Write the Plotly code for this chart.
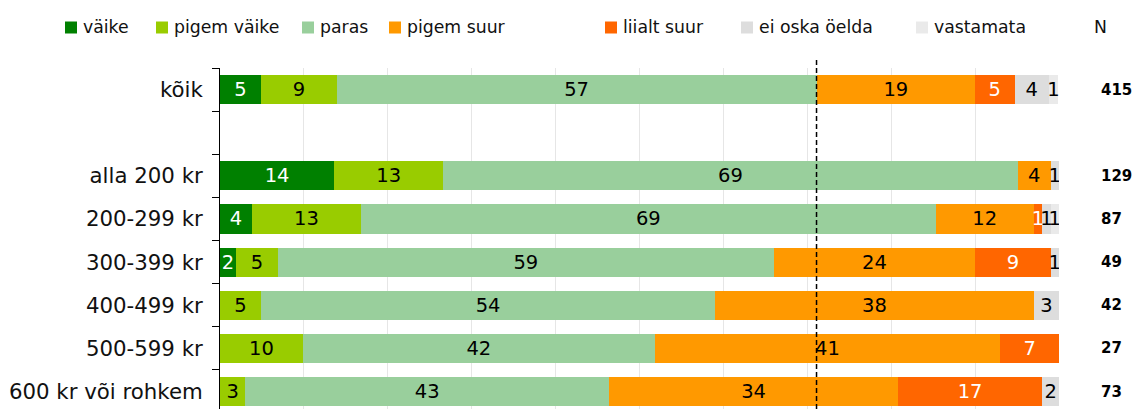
import plotly.graph_objects as go

# ---------------- data ----------------
categories = ["kõik", " ", "alla 200 kr", "200-299 kr", "300-399 kr",
              "400-499 kr", "500-599 kr", "600 kr või rohkem"]
series_names = ["väike", "pigem väike", "paras", "pigem suur",
                "liialt suur", "ei oska öelda", "vastamata"]

vaike       = [4.9, None, 13.6, 3.8, 1.9, 0, 0, 0]
pigem_vaike = [9.0, None, 13.0, 13.0, 5.0, 4.9, 9.9, 3.0]
paras       = [57.2, None, 68.5, 68.5, 59.1, 54.1, 41.9, 43.4]
pigem_suur  = [18.9, None, 3.9, 11.7, 24.0, 38.0, 41.2, 34.4]
liialt_suur = [4.7, None, 0, 1.0, 9.0, 0, 7.0, 17.2]
ei_oska     = [4.1, None, 1.0, 1.0, 1.0, 3.0, 0, 2.0]
vastamata   = [1.1, None, 0, 1.0, 0, 0, 0, 0]

vaike_lbl       = ["5", "", "14", "4", "2", "", "", ""]
pigem_vaike_lbl = ["9", "", "13", "13", "5", "5", "10", "3"]
paras_lbl       = ["57", "", "69", "69", "59", "54", "42", "43"]
pigem_suur_lbl  = ["19", "", "4", "12", "24", "38", "41", "34"]
liialt_suur_lbl = ["5", "", "", "1", "9", "", "7", "17"]
ei_oska_lbl     = ["4", "", "1", "1", "1", "3", "", "2"]
vastamata_lbl   = ["1", "", "", "1", "", "", "", ""]

n_values = [415, None, 129, 87, 49, 42, 27, 73]

# ---------------- styles ----------------
colors = ["#008000", "#99CC00", "#99CF9C", "#FF9900", "#FF6600", "#DDDDDD", "#EAEAEA"]
text_colors = ["white", "black", "black", "black", "white", "black", "black"]
FONT = "DejaVu Sans, Verdana, sans-serif"
FS_LEG = 17.3
FS_BAR = 19.5
FS_TICK = 21.3

W, H = 1133, 409
ML, MR, MT, MB = 220, 74, 68, 0
PW, PH = W - ML - MR, H - MT - MB


def px_x(px):  # page pixel -> paper x
    return (px - ML) / PW


def px_y(py):  # page pixel -> paper y
    return (H - MB - py) / PH


values = [vaike, pigem_vaike, paras, pigem_suur, liialt_suur, ei_oska, vastamata]
labels = [vaike_lbl, pigem_vaike_lbl, paras_lbl, pigem_suur_lbl,
          liialt_suur_lbl, ei_oska_lbl, vastamata_lbl]

fig = go.Figure()
for name, vals, lbl, col, tcol in zip(series_names, values, labels, colors, text_colors):
    fig.add_trace(go.Bar(
        y=categories, x=vals, name=name, orientation="h",
        marker=dict(color=col, line=dict(width=0)),
        text=lbl, textposition="inside", insidetextanchor="middle",
        textangle=0, insidetextfont=dict(family=FONT, size=FS_BAR, color=tcol),
        showlegend=False, hoverinfo="skip",
    ))

# reference line at the overall share of the first three answers
ref = vaike[0] + pigem_vaike[0] + paras[0]
fig.add_shape(type="line", xref="x", yref="paper", x0=ref, x1=ref,
              y0=0, y1=px_y(57), line=dict(color="black", width=1.5, dash="5px,3px"))

# manual legend
legend_sq_x = [65, 156, 302, 389, 605, 741, 916]
for name, col, sx in zip(series_names, colors, legend_sq_x):
    fig.add_shape(type="rect", xref="paper", yref="paper",
                  x0=px_x(sx), x1=px_x(sx + 12), y0=px_y(33.5), y1=px_y(21.5),
                  fillcolor=col, line=dict(width=0))
    fig.add_annotation(x=px_x(sx + 16), y=px_y(27), xref="paper", yref="paper",
                       text=name, showarrow=False, xanchor="left", yanchor="middle",
                       font=dict(family=FONT, size=FS_LEG, color="#111"))
fig.add_annotation(x=px_x(1092), y=px_y(27), xref="paper", yref="paper",
                   text="N", showarrow=False, xanchor="left", yanchor="middle",
                   font=dict(family=FONT, size=FS_LEG, color="#111"))

# N per row
for cat, n in zip(categories, n_values):
    if n is None:
        continue
    fig.add_annotation(x=px_x(1099), y=cat, xref="paper", yref="y",
                       text=f"<b>{n}</b>", showarrow=False, xanchor="left",
                       yanchor="middle",
                       font=dict(family=FONT, size=15, color="black"))

fig.update_layout(
    width=W, height=H, barmode="stack", bargap=0.326,
    margin=dict(l=ML, r=MR, t=MT, b=MB, pad=0, autoexpand=False),
    plot_bgcolor="white", paper_bgcolor="white",
    font=dict(family=FONT, size=FS_LEG, color="#111"),
    uniformtext=dict(minsize=FS_BAR, mode="show"),
    xaxis=dict(range=[0, 100], dtick=10, showgrid=True, gridcolor="#E6E6E6",
               gridwidth=1, showticklabels=False, zeroline=False, showline=False,
               ticks="", automargin=False),
    yaxis=dict(type="category", categoryorder="array", categoryarray=categories,
               range=[7.405, -0.5], showline=True, linecolor="black", linewidth=1,
               ticks="outside", ticklen=7, tickcolor="black", tickson="boundaries",
               showgrid=False, zeroline=False, ticklabelstandoff=12, automargin=False,
               tickfont=dict(family=FONT, size=FS_TICK, color="#111")),
)

# remove the browser's default page margin so the figure sits at the page origin
fig.write_html("out.html",
               config={"displayModeBar": False},
               post_script="document.body.style.margin='0';"
                           "document.body.style.overflow='hidden';")
